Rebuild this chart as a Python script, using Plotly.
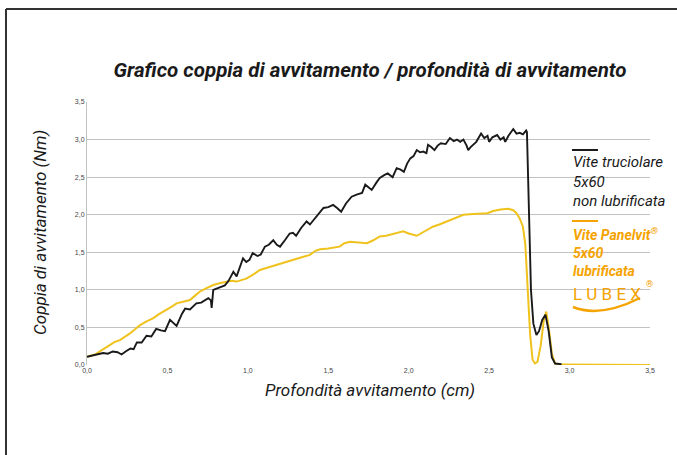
import plotly.graph_objects as go

# Non-lubricated chipboard screw (black)
depth_black = [0.00, 0.05, 0.10, 0.13, 0.16, 0.19, 0.215, 0.24, 0.27, 0.29, 0.31, 0.34, 0.37, 0.40, 0.43, 0.46,
               0.485, 0.516, 0.54, 0.557, 0.59, 0.61, 0.64, 0.68, 0.71, 0.754, 0.77, 0.775, 0.785, 0.82, 0.857,
               0.88, 0.91, 0.93, 0.97, 0.99, 1.01, 1.03, 1.06, 1.08, 1.106, 1.13, 1.158, 1.18, 1.20, 1.23, 1.26,
               1.28, 1.30, 1.33, 1.365, 1.386, 1.41, 1.44, 1.47, 1.50, 1.53, 1.555, 1.58, 1.61, 1.645, 1.68, 1.71,
               1.73, 1.75, 1.77, 1.80, 1.82, 1.85, 1.87, 1.90, 1.925, 1.95, 1.97, 1.99, 2.01, 2.03, 2.05, 2.07,
               2.09, 2.11, 2.12, 2.14, 2.16, 2.18, 2.20, 2.23, 2.256, 2.28, 2.30, 2.32, 2.34, 2.36, 2.37, 2.385,
               2.40, 2.42, 2.45, 2.47, 2.49, 2.50, 2.52, 2.55, 2.57, 2.59, 2.60, 2.62, 2.65, 2.67, 2.69, 2.71,
               2.73, 2.735, 2.76, 2.775, 2.794, 2.81, 2.83, 2.85, 2.87, 2.89, 2.91, 2.95]
torque_black = [0.11, 0.13, 0.16, 0.15, 0.18, 0.17, 0.14, 0.18, 0.22, 0.21, 0.30, 0.30, 0.39, 0.38, 0.48, 0.46,
                0.45, 0.60, 0.55, 0.52, 0.68, 0.75, 0.74, 0.82, 0.83, 0.89, 0.86, 0.76, 1.00, 1.03, 1.06,
                1.12, 1.24, 1.18, 1.42, 1.37, 1.40, 1.49, 1.45, 1.47, 1.575, 1.60, 1.66, 1.60, 1.575, 1.66, 1.75,
                1.76, 1.72, 1.82, 1.91, 1.87, 1.93, 2.00, 2.09, 2.10, 2.13, 2.09, 2.04, 2.15, 2.24, 2.27, 2.29,
                2.40, 2.36, 2.33, 2.43, 2.49, 2.53, 2.55, 2.50, 2.62, 2.60, 2.57, 2.68, 2.75, 2.78, 2.86, 2.83,
                2.84, 2.82, 2.93, 2.90, 2.86, 2.92, 2.95, 2.94, 3.02, 2.98, 3.00, 2.97, 3.00, 2.92, 2.86, 2.90,
                2.93, 2.97, 3.08, 3.02, 3.05, 2.97, 3.03, 3.06, 3.00, 3.03, 2.97, 3.05, 3.14, 3.08, 3.09, 3.07,
                3.12, 3.10, 1.00, 0.55, 0.40, 0.45, 0.60, 0.67, 0.45, 0.10, 0.02, 0.01]

# Lubricated Panelvit screw (yellow)
depth_yellow = [0.00, 0.05, 0.08, 0.11, 0.143, 0.175, 0.205, 0.235, 0.267, 0.30, 0.33, 0.37, 0.41, 0.45, 0.495,
                0.53, 0.557, 0.60, 0.64, 0.67, 0.70, 0.74, 0.785, 0.83, 0.868, 0.90, 0.93, 0.96, 0.99, 1.03,
                1.075, 1.13, 1.18, 1.23, 1.28, 1.33, 1.386, 1.42, 1.45, 1.50, 1.57, 1.60, 1.635, 1.68, 1.74,
                1.78, 1.82, 1.86, 1.90, 1.93, 1.966, 2.00, 2.05, 2.10, 2.15, 2.19, 2.235, 2.29, 2.34, 2.40,
                2.46, 2.49, 2.525, 2.57, 2.62, 2.65, 2.67, 2.69, 2.71, 2.725, 2.74, 2.755, 2.77, 2.785, 2.80,
                2.82, 2.84, 2.855, 2.87, 2.89, 2.91, 2.95, 3.50]
torque_yellow = [0.11, 0.14, 0.18, 0.22, 0.27, 0.31, 0.33, 0.37, 0.42, 0.48, 0.53, 0.58, 0.62, 0.68, 0.73,
                 0.78, 0.82, 0.84, 0.865, 0.92, 0.975, 1.02, 1.065, 1.09, 1.11, 1.12, 1.11, 1.13, 1.15, 1.20,
                 1.265, 1.30, 1.33, 1.37, 1.40, 1.43, 1.465, 1.52, 1.54, 1.55, 1.575, 1.62, 1.64, 1.63, 1.62,
                 1.66, 1.71, 1.72, 1.74, 1.76, 1.78, 1.75, 1.72, 1.78, 1.84, 1.87, 1.91, 1.96, 2.00, 2.01,
                 2.01, 2.02, 2.05, 2.07, 2.08, 2.06, 2.02, 1.95, 1.84, 1.60, 1.00, 0.40, 0.07, 0.02, 0.04,
                 0.25, 0.60, 0.71, 0.50, 0.15, 0.02, 0.005, 0.0]

x_ticks = [0.0, 0.5, 1.0, 1.5, 2.0, 2.5, 3.0, 3.5]
y_ticks = [0.0, 0.5, 1.0, 1.5, 2.0, 2.5, 3.0, 3.5]

title_text = "<b><i>Grafico coppia di avvitamento / profondità di avvitamento</i></b>"
x_title = "<i>Profondità avvitamento (cm)</i>"
y_title = "<i>Coppia di avvitamento (Nm)</i>"
legend_black = ["Vite truciolare", "5x60", "non lubrificata"]
legend_yellow = ["Vite Panelvit<sup>®</sup>", "5x60", "lubrificata"]

BLACK = "#1a1a1a"
YELLOW = "#EFC21E"
ORANGE = "#F5A300"
FONT = "Roboto, Arial, sans-serif"

fig = go.Figure()
fig.add_trace(go.Scatter(x=depth_yellow, y=torque_yellow, mode="lines",
                         line=dict(color=YELLOW, width=2), showlegend=False))
fig.add_trace(go.Scatter(x=depth_black, y=torque_black, mode="lines",
                         line=dict(color=BLACK, width=1.9), showlegend=False))

W, H = 677, 455
L, R, T, B = 87, 27, 102, 90
pw, ph = W - L - R, H - T - B

def px(xp):
    return (xp - L) / pw

def py(yp):
    return (H - B - yp) / ph

annotations = [
    dict(x=px(571), y=py(151), xref="paper", yref="paper", xanchor="left", yanchor="top",
         showarrow=False, align="left", text="<i>" + "<br>".join(legend_black) + "</i>",
         font=dict(family=FONT, size=15, color=BLACK)),
    dict(x=px(571), y=py(223), xref="paper", yref="paper", xanchor="left", yanchor="top",
         showarrow=False, align="left", text="<b><i>" + "<br>".join(legend_yellow) + "</i></b>",
         font=dict(family=FONT, size=14, color=ORANGE)),
    dict(x=px(571), y=py(294), xref="paper", yref="paper", xanchor="left", yanchor="middle",
         showarrow=False, text="L U B E X", font=dict(family=FONT, size=17, color=ORANGE)),
    dict(x=px(644), y=py(284), xref="paper", yref="paper", xanchor="left", yanchor="middle",
         showarrow=False, text="®", font=dict(family=FONT, size=9, color=ORANGE)),
    dict(x=px(370), y=py(390), xref="paper", yref="paper", xanchor="center", yanchor="middle",
         showarrow=False, text=x_title, font=dict(family=FONT, size=17, color=BLACK)),
    dict(x=px(40), y=py(233), xref="paper", yref="paper", xanchor="center", yanchor="middle",
         showarrow=False, text=y_title, textangle=-90, font=dict(family=FONT, size=17, color=BLACK)),
]

shapes = [
    # frame (top and left)
    dict(type="line", xref="paper", yref="paper", x0=px(6), x1=px(W + 5), y0=py(9), y1=py(9),
         line=dict(color="#333333", width=2)),
    dict(type="line", xref="paper", yref="paper", x0=px(6), x1=px(6), y0=py(9), y1=py(H + 5),
         line=dict(color="#333333", width=2)),
    # legend swatches
    dict(type="line", xref="paper", yref="paper", x0=px(572), x1=px(598), y0=py(150), y1=py(150),
         line=dict(color=BLACK, width=2)),
    dict(type="line", xref="paper", yref="paper", x0=px(572), x1=px(598), y0=py(221), y1=py(221),
         line=dict(color=ORANGE, width=2)),
    # LUBEX swoosh
    dict(type="path", xref="paper", yref="paper",
         path="M {} {} Q {} {} {} {}".format(px(573), py(307), px(600), py(318), px(640), py(298)),
         line=dict(color=ORANGE, width=2.5)),
]

fig.update_layout(
    width=W, height=H,
    margin=dict(l=L, r=R, t=T, b=B),
    paper_bgcolor="white", plot_bgcolor="white",
    separators=",.",
    title=dict(text=title_text, x=370 / W, xanchor="center", y=1 - 70 / H, yanchor="middle",
               xref="container", yref="container",
               font=dict(family=FONT, size=20.5, color=BLACK)),
    xaxis=dict(range=[0, 3.5], tickvals=x_ticks, tickformat=".1f", showgrid=False, zeroline=False,
               showline=False, ticks="", tickfont=dict(family="Liberation Sans, Arial", size=7, color="#444444")),
    yaxis=dict(range=[0, 3.5], tickvals=y_ticks, tickformat=".1f", showgrid=True, gridcolor="#c2c2c2",
               gridwidth=1, zeroline=False, showline=True, linecolor="#c2c2c2", linewidth=1, ticks="",
               tickfont=dict(family="Liberation Sans, Arial", size=7, color="#444444")),
    annotations=annotations,
    shapes=shapes,
)

fig.write_html("out.html", config={"displayModeBar": False},
               post_script="document.body.style.margin='0';")
